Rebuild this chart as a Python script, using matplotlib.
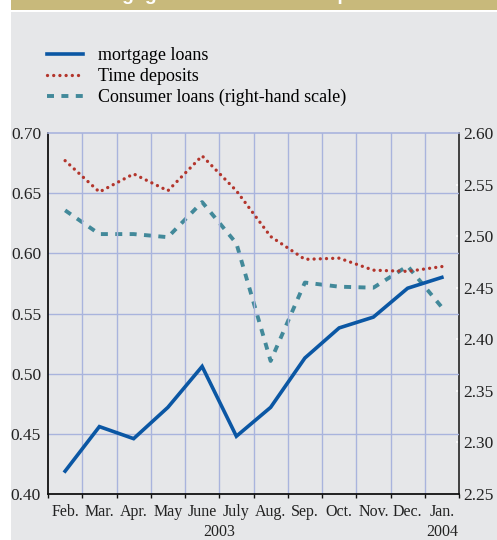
import matplotlib
matplotlib.use("Agg")
import matplotlib.pyplot as plt
from matplotlib.lines import Line2D
from matplotlib.patches import Rectangle
import matplotlib.transforms as mtransforms

months = ["Feb.", "Mar.", "Apr.", "May", "June", "July", "Aug.", "Sep.",
          "Oct.", "Nov.", "Dec.", "Jan."]
years = ["2003", "2004"]
mortgage = [0.419, 0.456, 0.446, 0.472, 0.506, 0.448, 0.472, 0.513,
            0.538, 0.547, 0.571, 0.580]
time_dep = [0.677, 0.651, 0.666, 0.652, 0.681, 0.652, 0.614, 0.595,
            0.596, 0.586, 0.585, 0.589]
consumer = [2.525, 2.502, 2.502, 2.499, 2.533, 2.493, 2.379, 2.455,
            2.451, 2.450, 2.471, 2.431]
left_ticks = [0.40, 0.45, 0.50, 0.55, 0.60, 0.65, 0.70]
right_ticks = [2.25, 2.30, 2.35, 2.40, 2.45, 2.50, 2.55, 2.60]

bg = "#E6E7E9"
grid_c = "#A9B4DD"
blue = "#0B57A4"
red = "#B3352C"
teal = "#42899A"

dotted = (0, (0.01, 1.85))
dashed = (0, (1.8, 1.9))

plt.rcParams["font.family"] = ["Liberation Serif", "DejaVu Serif"]

fig = plt.figure(figsize=(4.97, 5.40), dpi=100)
fig.patch.set_facecolor(bg)

W, H = 497.0, 540.0
# white strip on the left and tan title band on top
fig.patches.append(Rectangle((0, 0), 11 / W, 1, transform=fig.transFigure,
                             facecolor="white", edgecolor="none", zorder=0))
fig.patches.append(Rectangle((11 / W, 1 - 11.7 / H), 1, 2 / H, transform=fig.transFigure,
                             facecolor="white", edgecolor="none", zorder=0))
fig.patches.append(Rectangle((11 / W, 1 - 9.7 / H), 1, 9.7 / H, transform=fig.transFigure,
                             facecolor="#C8B97B", edgecolor="none", zorder=0))
# title is cut off by the top edge in the original too
fig.text(80 / W, 1 - 0.5 / H, "Mortgage loans and time deposits", color="white",
         fontsize=14, fontweight="bold", family=["Liberation Sans"],
         ha="left", va="baseline")

ax = fig.add_axes([48 / W, 46 / H, 411 / W, 361 / H])
ax.set_facecolor(bg)
x = list(range(len(months)))

ax.set_xlim(-0.5, len(months) - 0.5)
ax.set_ylim(0.40, 0.70)
ax.set_yticks(left_ticks)
ax.set_yticklabels([f"{v:.2f}" for v in left_ticks], fontsize=12.5, color="#222222")
ax.set_xticks(x)
ax.set_xticklabels(months, fontsize=11.5, color="#222222")
ax.set_xticks([i - 0.5 for i in range(len(months) + 1)], minor=True)
ax.tick_params(axis="x", which="major", length=0, pad=7)
ax.tick_params(axis="x", which="minor", length=3, width=1, color="#111111", direction="out")
ax.tick_params(axis="y", length=0, pad=5)

ax.grid(False)
for v in left_ticks[1:-1]:
    ax.axhline(v, color=grid_c, lw=1, zorder=1)
for i in range(1, len(months)):
    ax.axvline(i - 0.5, color=grid_c, lw=1, zorder=1)

for s in ["left", "bottom"]:
    ax.spines[s].set_color("#111111")
    ax.spines[s].set_linewidth(1.3)
ax.spines["top"].set_color(grid_c)
ax.spines["top"].set_linewidth(1.2)
ax.spines["right"].set_visible(False)

ax2 = ax.twinx()
ax2.set_ylim(2.25, 2.60)
ax2.set_yticks(right_ticks)
ax2.set_yticklabels([f"{v:.2f}" for v in right_ticks], fontsize=12.5, color="#222222")
ax2.tick_params(axis="y", length=2, width=1.2, color="white", direction="in", pad=3)
ax2.spines["right"].set_color("#333333")
ax2.spines["right"].set_linewidth(1.3)
for s in ["left", "top", "bottom"]:
    ax2.spines[s].set_visible(False)

ax2.plot(x, consumer, color=teal, lw=2.8, linestyle=dashed, zorder=3)
ax.plot(x, time_dep, color=red, lw=2.4, linestyle=dotted,
        dash_capstyle="round", zorder=3)
ax.set_zorder(ax2.get_zorder() + 1)
ax.patch.set_visible(False)
ax2.patch.set_visible(True)
ax2.patch.set_facecolor(bg)
ax.plot(x, mortgage, color=blue, lw=2.6, zorder=4, solid_joinstyle="miter")

trans = mtransforms.blended_transform_factory(ax.transData, ax.transAxes)
ax.text(4.5, -0.105, years[0], transform=trans, ha="center", va="center",
        fontsize=11.5, color="#222222")
ax.text(11, -0.105, years[1], transform=trans, ha="center", va="center",
        fontsize=11.5, color="#222222")

handles = [
    Line2D([], [], color=blue, lw=2.6),
    Line2D([], [], color=red, lw=2.4, linestyle=dotted, dash_capstyle="round"),
    Line2D([], [], color=teal, lw=2.8, linestyle=dashed),
]
labels = ["mortgage loans", "Time deposits", "Consumer loans (right-hand scale)"]
fig.legend(handles, labels, loc="upper left", bbox_to_anchor=(47 / W, 1 - 47 / H),
           frameon=False, fontsize=13, handlelength=2.0, handletextpad=0.85,
           labelspacing=0.22, borderpad=0, borderaxespad=0)

fig.savefig("out.png", dpi=100, facecolor=fig.get_facecolor())
